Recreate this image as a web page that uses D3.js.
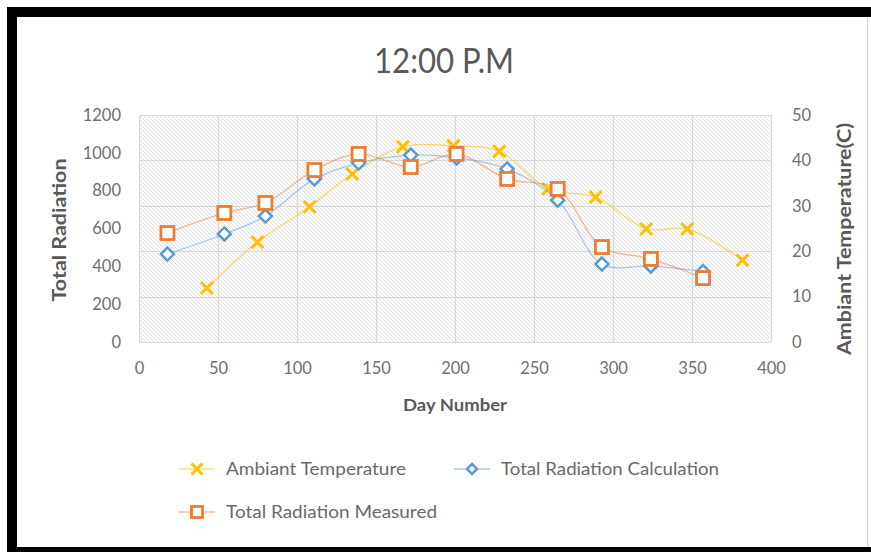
<!DOCTYPE html>
<html>
<head>
<meta charset="utf-8">
<script src="https://cdn.jsdelivr.net/npm/d3@7"></script>
<style>
html,body{margin:0;padding:0;background:#fff;}
svg{display:block;}
text{font-family:Lato,"Open Sans",sans-serif;}
</style>
</head>
<body>
<svg id="chart" width="871" height="552"></svg>
<script>
// ---- data ----
const title = "12:00 P.M";
const xTicks = [0, 50, 100, 150, 200, 250, 300, 350, 400];
const leftTicks = [0, 200, 400, 600, 800, 1000, 1200];
const rightTicks = [0, 10, 20, 30, 40, 50];

const tempDays = [43, 75, 108, 135, 167, 199, 228, 259, 289, 321, 347, 382];
const tempValues = [11.9, 22, 29.8, 37, 43, 43.2, 42, 33.7, 31.9, 24.9, 24.9, 18];

const radDays = [18, 54, 80, 111, 139, 172, 201, 233, 265, 293, 324, 357];
const calcValues = [465, 571, 666, 862, 946, 988, 973, 915, 750, 412, 402, 372];
const measValues = [576, 682, 735, 909, 994, 925, 994, 862, 809, 502, 439, 338];

const seriesNames = ["Ambiant Temperature", "Total Radiation Calculation", "Total Radiation Measured"];
const colors = {temp: "#ffc000", calc: "#5b9bd5", meas: "#ed7d31"};

// ---- layout ----
const svg = d3.select("#chart");
const W = 871, H = 552;
const plot = {left: 139, right: 771, top: 115, bottom: 342};

const x = d3.scaleLinear().domain([0, 400]).range([plot.left, plot.right]);
const yL = d3.scaleLinear().domain([0, 1200]).range([plot.bottom, plot.top]);
const yR = d3.scaleLinear().domain([0, 50]).range([plot.bottom, plot.top]);

// frame
svg.append("rect").attr("x", 0).attr("y", 0).attr("width", W).attr("height", H).attr("fill", "#fff");
svg.append("rect").attr("x", 7).attr("y", 7).attr("width", W - 7).attr("height", 10).attr("fill", "#000");
svg.append("rect").attr("x", 7).attr("y", 7).attr("width", 10).attr("height", H - 7).attr("fill", "#000");
svg.append("rect").attr("x", 7).attr("y", 547).attr("width", W - 7).attr("height", 5).attr("fill", "#000");
svg.append("line").attr("x1", 867.5).attr("x2", 867.5).attr("y1", 17).attr("y2", 547).attr("stroke", "#cfcfcf").attr("stroke-width", 1);

// hatch pattern
const defs = svg.append("defs");
const pat = defs.append("pattern").attr("id", "hatch").attr("patternUnits", "userSpaceOnUse")
  .attr("width", 4).attr("height", 4);
pat.append("rect").attr("width", 4).attr("height", 4).attr("fill", "#fbfbfb");
pat.append("path").attr("d", "M-1,-1 L5,5 M3,-1 L5,1 M-1,3 L1,5").attr("stroke", "#e0e0e0").attr("stroke-width", 1);

svg.append("rect").attr("x", plot.left).attr("y", plot.top)
  .attr("width", plot.right - plot.left).attr("height", plot.bottom - plot.top)
  .attr("fill", "url(#hatch)");

// gridlines
const grid = svg.append("g");
grid.selectAll("line.h").data(rightTicks).join("line")
  .attr("x1", plot.left).attr("x2", plot.right)
  .attr("y1", d => Math.round(yR(d)) + 0.5).attr("y2", d => Math.round(yR(d)) + 0.5)
  .attr("stroke", "#d9d9d9").attr("stroke-width", 1.2);
grid.selectAll("line.v").data(xTicks).join("line")
  .attr("y1", plot.top).attr("y2", plot.bottom)
  .attr("x1", d => Math.round(x(d)) + 0.5).attr("x2", d => Math.round(x(d)) + 0.5)
  .attr("stroke", "#d9d9d9").attr("stroke-width", 1.2);

// title
svg.append("text").attr("x", 444).attr("y", 73).attr("text-anchor", "middle")
  .attr("font-size", 34).attr("fill", "#595959").attr("textLength", 140).attr("lengthAdjust", "spacingAndGlyphs")
  .text(title);

// axes
const tickColor = "#6f6f6f";
const axL = svg.append("g").attr("transform", `translate(${plot.left - 18},0)`)
  .call(d3.axisLeft(yL).tickValues(leftTicks).tickFormat(d3.format("d")).tickSize(0).tickPadding(0));
const axR = svg.append("g").attr("transform", `translate(${plot.right + 21},0)`)
  .call(d3.axisRight(yR).tickValues(rightTicks).tickFormat(d3.format("d")).tickSize(0).tickPadding(0));
const axB = svg.append("g").attr("transform", `translate(0,${plot.bottom + 20})`)
  .call(d3.axisBottom(x).tickValues(xTicks).tickFormat(d3.format("d")).tickSize(0).tickPadding(0));
[axL, axR, axB].forEach(a => {
  a.select(".domain").remove();
  a.selectAll("text").attr("font-size", 16.5).attr("fill", tickColor)
    .style("font-family", "Lato, 'Open Sans', sans-serif");
});
axB.selectAll("text").attr("dy", "0.71em");

// axis titles
svg.append("text").attr("transform", "translate(66,230) rotate(-90)").attr("text-anchor", "middle")
  .attr("font-size", 18).attr("font-weight", "bold").attr("fill", "#595959")
  .attr("textLength", 143).attr("lengthAdjust", "spacingAndGlyphs").text("Total Radiation");
svg.append("text").attr("transform", "translate(851,239) rotate(-90)").attr("text-anchor", "middle")
  .attr("font-size", 18).attr("font-weight", "bold").attr("fill", "#595959")
  .attr("textLength", 232).attr("lengthAdjust", "spacingAndGlyphs").text("Ambiant Temperature(C)");
svg.append("text").attr("x", 455).attr("y", 411).attr("text-anchor", "middle")
  .attr("font-size", 17).attr("font-weight", "bold").attr("fill", "#595959")
  .attr("textLength", 104).attr("lengthAdjust", "spacingAndGlyphs").text("Day Number");

// series
const curve = d3.curveCatmullRom.alpha(0.5);
const tempData = tempDays.map((d, i) => ({d, v: tempValues[i]}));
const calcData = radDays.map((d, i) => ({d, v: calcValues[i]}));
const measData = radDays.map((d, i) => ({d, v: measValues[i]}));

const lineR = d3.line().x(p => x(p.d)).y(p => yR(p.v)).curve(curve);
const lineL = d3.line().x(p => x(p.d)).y(p => yL(p.v)).curve(curve);

function drawX(g, cx, cy, s, col, sw) {
  g.append("path").attr("d", `M${cx - s},${cy - s}L${cx + s},${cy + s}M${cx - s},${cy + s}L${cx + s},${cy - s}`)
    .attr("stroke", col).attr("stroke-width", sw).attr("fill", "none");
}
function drawDiamond(g, cx, cy, s, col, sw) {
  g.append("path").attr("d", `M${cx},${cy - s}L${cx + s},${cy}L${cx},${cy + s}L${cx - s},${cy}Z`)
    .attr("stroke", col).attr("stroke-width", sw).attr("fill", "#fff");
}
function drawSquare(g, cx, cy, s, col, sw) {
  g.append("rect").attr("x", cx - s).attr("y", cy - s).attr("width", 2 * s).attr("height", 2 * s)
    .attr("stroke", col).attr("stroke-width", sw).attr("fill", "#fff");
}

const gT = svg.append("g");
gT.append("path").datum(tempData).attr("d", lineR).attr("fill", "none")
  .attr("stroke", colors.temp).attr("stroke-opacity", 0.55).attr("stroke-width", 1.3);
tempData.forEach(p => drawX(gT, x(p.d), yR(p.v), 6, colors.temp, 3));

const gC = svg.append("g");
gC.append("path").datum(calcData).attr("d", lineL).attr("fill", "none")
  .attr("stroke", colors.calc).attr("stroke-opacity", 0.5).attr("stroke-width", 1.3);
calcData.forEach(p => drawDiamond(gC, x(p.d), yL(p.v), 6.5, colors.calc, 2.5));

const gM = svg.append("g");
gM.append("path").datum(measData).attr("d", lineL).attr("fill", "none")
  .attr("stroke", colors.meas).attr("stroke-opacity", 0.5).attr("stroke-width", 1.3);
measData.forEach(p => drawSquare(gM, x(p.d), yL(p.v), 6.5, colors.meas, 2.8));

// legend
const leg = svg.append("g");
const legendItems = [
  {name: seriesNames[0], col: colors.temp, kind: "x", lx: 197, ly: 469, len: 180},
  {name: seriesNames[1], col: colors.calc, kind: "d", lx: 472, ly: 469, len: 218},
  {name: seriesNames[2], col: colors.meas, kind: "s", lx: 197, ly: 512, len: 211}
];
legendItems.forEach(it => {
  leg.append("line").attr("x1", it.lx - 18).attr("x2", it.lx + 18).attr("y1", it.ly).attr("y2", it.ly)
    .attr("stroke", it.col).attr("stroke-opacity", 0.5).attr("stroke-width", 1.5);
  if (it.kind === "x") drawX(leg, it.lx, it.ly, 5.5, it.col, 3);
  if (it.kind === "d") drawDiamond(leg, it.lx, it.ly, 5, it.col, 2.5);
  if (it.kind === "s") drawSquare(leg, it.lx, it.ly, 5.5, it.col, 2.8);
  leg.append("text").attr("x", it.lx + 29).attr("y", it.ly).attr("dy", "0.35em")
    .attr("font-size", 18).attr("fill", "#6a6a6a")
    .attr("textLength", it.len).attr("lengthAdjust", "spacingAndGlyphs").text(it.name);
});
</script>
</body>
</html>
